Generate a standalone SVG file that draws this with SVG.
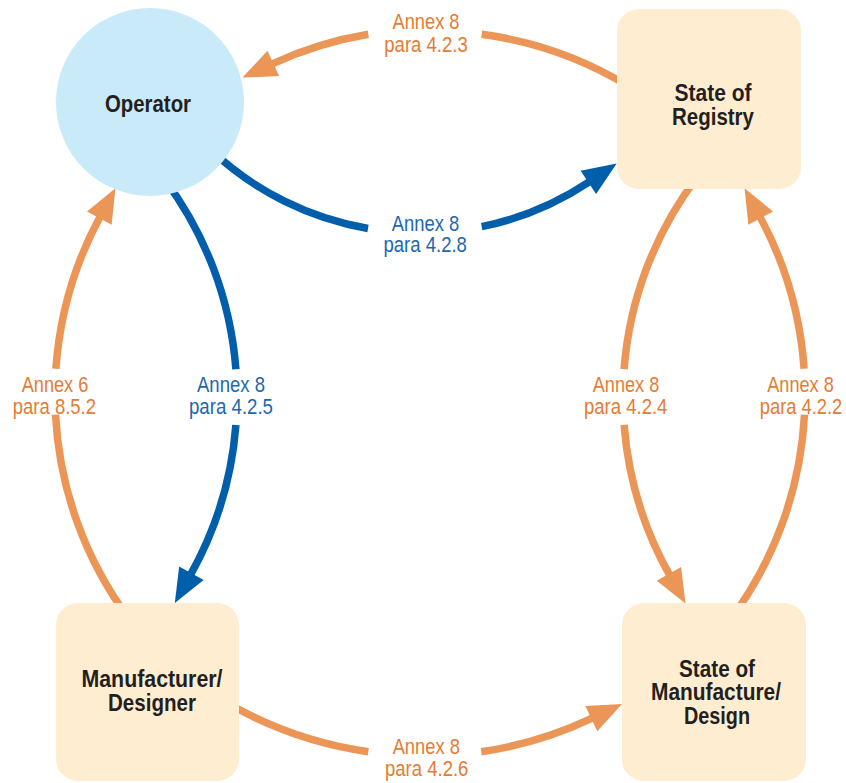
<svg xmlns="http://www.w3.org/2000/svg" width="846" height="783" viewBox="0 0 846 783">
  <style>
    .wire { fill: none; stroke-width: 7.5; stroke-linecap: butt; }
    .orange { stroke: #EB9556; }
    .blue { stroke: #005EAA; }
    .box { fill: #FEEDD0; }
    .disc { fill: #C9EAF9; }
    .title { font-family: "Liberation Sans", Arial, sans-serif; font-weight: bold; font-size: 24px; fill: #231F20; text-anchor: middle; }
    .lbl { font-family: "Liberation Sans", Arial, sans-serif; font-size: 22px; text-anchor: middle; }
    .lbl-o { fill: #E57C31; }
    .lbl-b { fill: #1D67AF; }
  </style>
  <defs>
    <marker id="headOrange" markerUnits="userSpaceOnUse" markerWidth="36" markerHeight="30" refX="1" refY="14" orient="auto" overflow="visible">
      <path d="M0,0 L34,14 L0,28 Z" fill="#EB9556"/>
    </marker>
    <marker id="headBlue" markerUnits="userSpaceOnUse" markerWidth="36" markerHeight="30" refX="1" refY="14" orient="auto" overflow="visible">
      <path d="M0,0 L34,14 L0,28 Z" fill="#005EAA"/>
    </marker>
  </defs>

  <!-- connectors: each arc is split where its label sits -->
  <g id="connectors">
    <g id="c-registry-operator">
      <path class="wire orange" d="M629.8,87 A378,378 0 0 0 481.7,34.3"/>
      <path class="wire orange" d="M368.3,34.3 A378,378 0 0 0 272.4,63.8" marker-end="url(#headOrange)"/>
    </g>
    <g id="c-operator-registry">
      <path class="wire blue" d="M212,151.1 A305,305 0 0 0 368,228.5"/>
      <path class="wire blue" d="M481.7,226.7 A305,305 0 0 0 589.2,181.8" marker-end="url(#headBlue)"/>
    </g>
    <g id="c-manufacturer-operator">
      <path class="wire orange" d="M130.5,620.7 A375,375 0 0 1 55.5,414.6"/>
      <path class="wire orange" d="M55.9,368.8 A375,375 0 0 1 99.8,217.2" marker-end="url(#headOrange)"/>
    </g>
    <g id="c-operator-manufacturer">
      <path class="wire blue" d="M163.9,178.5 A363,363 0 0 1 235.9,369.3"/>
      <path class="wire blue" d="M235.9,425 A363,363 0 0 1 190.9,574.1" marker-end="url(#headBlue)"/>
    </g>
    <g id="c-registry-statemfg">
      <path class="wire orange" d="M698,176 A363,363 0 0 0 624.1,369.1"/>
      <path class="wire orange" d="M624.1,424.9 A363,363 0 0 0 669.4,574.7" marker-end="url(#headOrange)"/>
    </g>
    <g id="c-statemfg-registry">
      <path class="wire orange" d="M729.5,620.7 A375,375 0 0 0 804.5,414.6"/>
      <path class="wire orange" d="M804.1,368.8 A375,375 0 0 0 760.2,217.2" marker-end="url(#headOrange)"/>
    </g>
    <g id="c-manufacturer-statemfg">
      <path class="wire orange" d="M222.1,700 A392,392 0 0 0 368.3,751.7"/>
      <path class="wire orange" d="M481.3,751.8 A392,392 0 0 0 592.2,718.1" marker-end="url(#headOrange)"/>
    </g>

    <!-- connector labels -->
    <text class="lbl lbl-o" x="426" y="29" textLength="67" lengthAdjust="spacingAndGlyphs">Annex 8</text>
    <text class="lbl lbl-o" x="426" y="51.5" textLength="83.4" lengthAdjust="spacingAndGlyphs">para 4.2.3</text>

    <text class="lbl lbl-b" x="425.5" y="230.7" textLength="67.5" lengthAdjust="spacingAndGlyphs">Annex 8</text>
    <text class="lbl lbl-b" x="425.2" y="251.7" textLength="83.4" lengthAdjust="spacingAndGlyphs">para 4.2.8</text>

    <text class="lbl lbl-o" x="55" y="392" textLength="66.6" lengthAdjust="spacingAndGlyphs">Annex 6</text>
    <text class="lbl lbl-o" x="54.4" y="413.5" textLength="83.3" lengthAdjust="spacingAndGlyphs">para 8.5.2</text>

    <text class="lbl lbl-b" x="231" y="392" textLength="68" lengthAdjust="spacingAndGlyphs">Annex 8</text>
    <text class="lbl lbl-b" x="231" y="413.5" textLength="84" lengthAdjust="spacingAndGlyphs">para 4.2.5</text>

    <text class="lbl lbl-o" x="626" y="392.3" textLength="66.5" lengthAdjust="spacingAndGlyphs">Annex 8</text>
    <text class="lbl lbl-o" x="625.7" y="413.5" textLength="83.3" lengthAdjust="spacingAndGlyphs">para 4.2.4</text>

    <text class="lbl lbl-o" x="800.5" y="392.3" textLength="66.5" lengthAdjust="spacingAndGlyphs">Annex 8</text>
    <text class="lbl lbl-o" x="801" y="413.5" textLength="82.5" lengthAdjust="spacingAndGlyphs">para 4.2.2</text>

    <text class="lbl lbl-o" x="426.3" y="753.5" textLength="67.3" lengthAdjust="spacingAndGlyphs">Annex 8</text>
    <text class="lbl lbl-o" x="426.7" y="775.5" textLength="83.3" lengthAdjust="spacingAndGlyphs">para 4.2.6</text>
  </g>

  <!-- nodes -->
  <g id="operator">
    <circle class="disc" cx="150" cy="102" r="94"/>
    <text class="title" x="148" y="111.7" textLength="86" lengthAdjust="spacingAndGlyphs">Operator</text>
  </g>

  <g id="state-of-registry">
    <rect class="box" x="617" y="9" width="184" height="180" rx="22"/>
    <text class="title" x="713" y="100.7" textLength="77" lengthAdjust="spacingAndGlyphs">State of</text>
    <text class="title" x="713" y="125" textLength="82" lengthAdjust="spacingAndGlyphs">Registry</text>
  </g>

  <g id="manufacturer-designer">
    <rect class="box" x="56" y="603" width="183" height="178" rx="22"/>
    <text class="title" x="152" y="687.3" textLength="141" lengthAdjust="spacingAndGlyphs">Manufacturer/</text>
    <text class="title" x="152" y="710.7" textLength="88" lengthAdjust="spacingAndGlyphs">Designer</text>
  </g>

  <g id="state-of-manufacture">
    <rect class="box" x="622" y="603" width="184" height="178" rx="22"/>
    <text class="title" x="717" y="676.7" textLength="76" lengthAdjust="spacingAndGlyphs">State of</text>
    <text class="title" x="716" y="700.3" textLength="130" lengthAdjust="spacingAndGlyphs">Manufacture/</text>
    <text class="title" x="717" y="724" textLength="66" lengthAdjust="spacingAndGlyphs">Design</text>
  </g>
</svg>
